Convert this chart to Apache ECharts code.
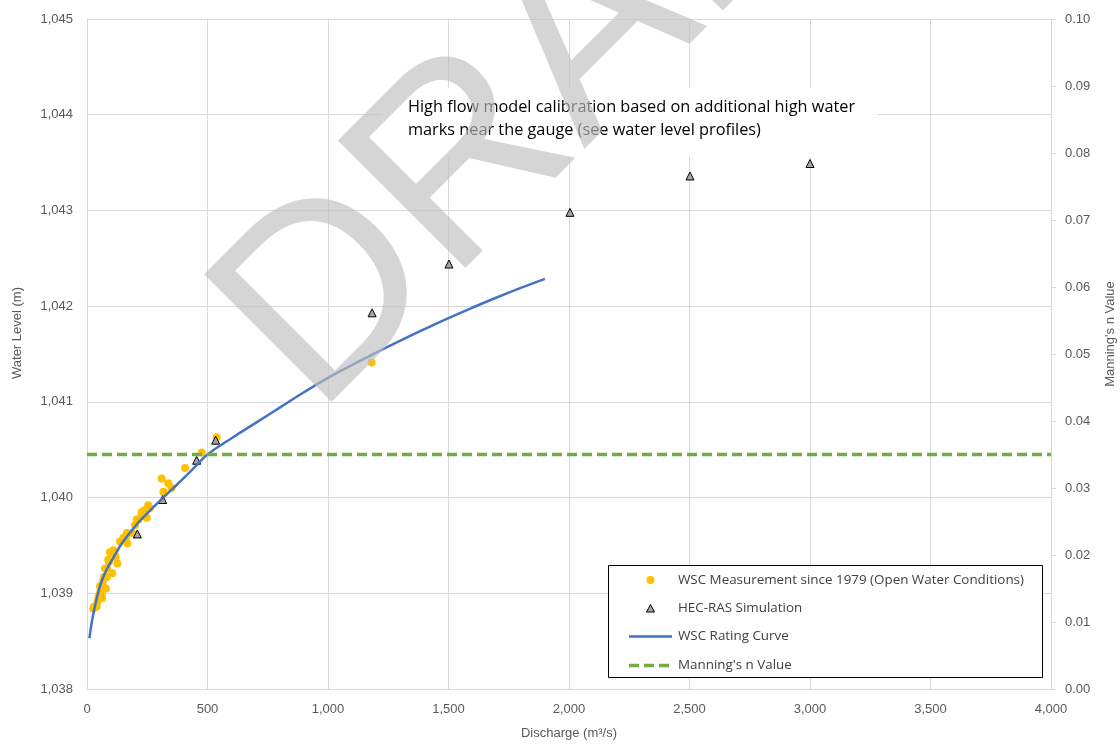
<!DOCTYPE html>
<html>
<head>
<meta charset="utf-8">
<title>Rating Curve</title>
<script src="https://cdn.jsdelivr.net/npm/echarts@6/dist/echarts.min.js"></script>
<style>
  html, body { margin: 0; padding: 0; background: #ffffff; }
  #chart { width: 1120px; height: 745px; }
</style>
</head>
<body>
<div id="chart"></div>
<script>
// WSC measurements since 1979 (open water conditions): discharge (m3/s) and water level (m)
const measQ = [26, 29, 40, 43, 47, 50, 54, 57, 61, 63, 54, 63, 68, 71, 78, 82, 75, 84, 88, 91,
  105, 95, 98, 109, 116, 119, 126, 137, 151, 161, 165, 167, 188, 199, 206, 213, 227, 227, 241, 248,
  254, 261, 310, 317, 337, 351, 407, 476, 538, 1181];
const measWL = [1038.84, 1038.86, 1038.86, 1038.91, 1038.95, 1038.98, 1039.00, 1039.02, 1039.00, 1038.95,
  1039.07, 1039.09, 1039.14, 1039.17, 1039.05, 1039.17, 1039.26, 1039.26, 1039.35, 1039.33,
  1039.21, 1039.43, 1039.43, 1039.45, 1039.40, 1039.38, 1039.31, 1039.54, 1039.58, 1039.58,
  1039.63, 1039.52, 1039.63, 1039.71, 1039.77, 1039.77, 1039.82, 1039.85, 1039.87, 1039.79,
  1039.92, 1039.89, 1040.20, 1040.06, 1040.15, 1040.10, 1040.31, 1040.47, 1040.63, 1041.41];

// HEC-RAS simulation results
const simQ = [209, 314, 455, 534, 1183, 1502, 2004, 2502, 3000];
const simWL = [1039.62, 1039.98, 1040.39, 1040.60, 1041.93, 1042.44, 1042.98, 1043.36, 1043.49];

// WSC rating curve
const curveQ = [10, 15, 20, 30, 40, 50, 60, 80, 100, 125, 150, 200, 250, 300, 350, 400, 450, 500,
  600, 700, 800, 900, 1000, 1100, 1200, 1300, 1400, 1500, 1600, 1700, 1800, 1900];
const curveWL = [1038.53, 1038.62, 1038.70, 1038.83, 1038.94, 1039.04, 1039.12, 1039.24, 1039.33,
  1039.44, 1039.54, 1039.70, 1039.835, 1039.96, 1040.08, 1040.20, 1040.325, 1040.45,
  1040.62, 1040.78, 1040.94, 1041.10, 1041.25, 1041.385, 1041.515, 1041.64, 1041.76, 1041.875,
  1041.985, 1042.09, 1042.19, 1042.285];

// Manning's n value (secondary axis)
const manningQ = [0, 4000];
const manningN = [0.035, 0.035];

// Axis ranges and tick steps
const xTicks = { min: 0, max: 4000, step: 500 };
const wlTicks = { min: 1038, max: 1045, step: 1 };
const nTicks = { min: 0, max: 0.1, step: 0.01 };

const seriesNames = [
  'WSC Measurement since 1979 (Open Water Conditions)',
  'HEC-RAS Simulation',
  'WSC Rating Curve',
  "Manning's n Value"
];
const noteLines = [
  'High flow model calibration based on additional high water',
  'marks near the gauge (see water level profiles)'
];

const zip = (a, b) => a.map((v, i) => [v, b[i]]);
const FONT = "'Liberation Sans', Arial, sans-serif";
const TEXT_FONT = "'Open Sans', 'Liberation Sans', sans-serif";
const AXIS_TEXT = '#595959';
const GRID_COLOR = '#d9d9d9';

const COLORS = {
  meas: '#FFC000',
  sim: '#a5a5a5',
  curve: '#4472C4',
  manning: '#70AD47'
};
const MANNING_DASH = [10, 5];

// Legend, drawn as a framed box with one row per series
function legendElements() {
  const box = { x: 608.5, y: 565.5, w: 434, h: 112 };
  const rows = [580, 608.5, 636.5, 665.5];
  const iconL = 629, iconR = 672, iconC = (iconL + iconR) / 2, textX = 678;
  const els = [{
    type: 'rect', z: 10,
    shape: { x: box.x, y: box.y, width: box.w, height: box.h },
    style: { fill: '#ffffff', stroke: '#000000', lineWidth: 1 }
  }];
  els.push({
    type: 'circle', z: 11,
    shape: { cx: iconC, cy: rows[0], r: 4 },
    style: { fill: COLORS.meas }
  });
  els.push({
    type: 'polygon', z: 11,
    shape: { points: [[iconC, rows[1] - 4], [iconC + 4, rows[1] + 3.5], [iconC - 4, rows[1] + 3.5]] },
    style: { fill: COLORS.sim, stroke: '#000000', lineWidth: 1 }
  });
  els.push({
    type: 'line', z: 11,
    shape: { x1: iconL, y1: rows[2], x2: iconR, y2: rows[2] },
    style: { stroke: COLORS.curve, lineWidth: 2.5 }
  });
  els.push({
    type: 'line', z: 11,
    shape: { x1: iconL, y1: rows[3], x2: iconR + 1, y2: rows[3] },
    style: { stroke: COLORS.manning, lineWidth: 3.5, lineDash: MANNING_DASH }
  });
  seriesNames.forEach((name, i) => {
    els.push({
      type: 'text', z: 11,
      x: textX, y: rows[i],
      style: { text: name, fill: '#404040', font: '13.4px ' + TEXT_FONT, align: 'left', verticalAlign: 'middle' }
    });
  });
  return els;
}

const chart = echarts.init(document.getElementById('chart'), null, { renderer: 'canvas' });

chart.setOption({
  animation: false,
  backgroundColor: '#ffffff',
  textStyle: { fontFamily: FONT },
  grid: { left: 87, right: 69, top: 19, bottom: 56, containLabel: false },
  xAxis: {
    type: 'value',
    min: xTicks.min, max: xTicks.max, interval: xTicks.step,
    axisLine: { show: true, lineStyle: { color: GRID_COLOR, width: 1 } },
    axisTick: { show: false },
    axisLabel: {
      color: AXIS_TEXT, fontSize: 13, fontFamily: FONT, margin: 14,
      formatter: v => v.toLocaleString('en-US')
    },
    splitLine: { show: true, lineStyle: { color: GRID_COLOR, width: 1 } }
  },
  yAxis: [
    {
      type: 'value',
      min: wlTicks.min, max: wlTicks.max, interval: wlTicks.step,
      axisLine: { show: true, lineStyle: { color: GRID_COLOR, width: 1 } },
      axisTick: { show: false },
      axisLabel: {
        color: AXIS_TEXT, fontSize: 13, fontFamily: FONT, margin: 14,
        formatter: v => v.toLocaleString('en-US')
      },
      splitLine: { show: true, lineStyle: { color: GRID_COLOR, width: 1 } }
    },
    {
      type: 'value',
      position: 'right',
      min: nTicks.min, max: nTicks.max, interval: nTicks.step,
      axisLine: { show: true, lineStyle: { color: GRID_COLOR, width: 1 } },
      axisTick: { show: true, inside: false, length: 5, lineStyle: { color: GRID_COLOR } },
      axisLabel: {
        color: AXIS_TEXT, fontSize: 13, fontFamily: FONT, margin: 14,
        formatter: v => v.toFixed(2)
      },
      splitLine: { show: false }
    }
  ],
  series: [
    {
      name: seriesNames[0],
      type: 'scatter',
      data: zip(measQ, measWL),
      symbol: 'circle',
      symbolSize: 8,
      itemStyle: { color: COLORS.meas, opacity: 1 },
      z: 2
    },
    {
      name: seriesNames[1],
      type: 'scatter',
      data: zip(simQ, simWL),
      symbol: 'triangle',
      symbolSize: [8, 8],
      itemStyle: { color: COLORS.sim, borderColor: '#000000', borderWidth: 1, opacity: 1 },
      z: 3
    },
    {
      name: seriesNames[2],
      type: 'line',
      data: zip(curveQ, curveWL),
      smooth: 0.5,
      symbol: 'none',
      lineStyle: { color: COLORS.curve, width: 2.5 },
      itemStyle: { color: COLORS.curve },
      z: 4
    },
    {
      name: seriesNames[3],
      type: 'line',
      yAxisIndex: 1,
      data: zip(manningQ, manningN),
      symbol: 'none',
      lineStyle: { color: COLORS.manning, width: 3.5, type: MANNING_DASH },
      itemStyle: { color: COLORS.manning },
      z: 5
    }
  ],
  graphic: {
    elements: [
      // annotation box
      {
        type: 'rect', z: 10,
        shape: { x: 382, y: 88, width: 495, height: 69 },
        style: { fill: '#ffffff' }
      },
      {
        type: 'text', z: 11,
        x: 408, y: 96,
        style: {
          text: noteLines.join('\n'),
          fill: '#000000',
          font: '16.3px ' + TEXT_FONT,
          lineHeight: 23,
          align: 'left',
          verticalAlign: 'top'
        }
      },
      // axis titles
      {
        type: 'text', z: 11,
        x: 17, y: 333, rotation: Math.PI / 2,
        style: { text: 'Water Level (m)', fill: AXIS_TEXT, font: '13px ' + FONT, align: 'center', verticalAlign: 'middle' }
      },
      {
        type: 'text', z: 11,
        x: 1110, y: 334, rotation: Math.PI / 2,
        style: { text: "Manning's n Value", fill: AXIS_TEXT, font: '13px ' + FONT, align: 'center', verticalAlign: 'middle' }
      },
      {
        type: 'text', z: 11,
        x: 569, y: 733,
        style: { text: 'Discharge (m³/s)', fill: AXIS_TEXT, font: '13px ' + FONT, align: 'center', verticalAlign: 'middle' }
      },
      ...legendElements(),
      // watermark
      {
        type: 'text', z: 100, silent: true,
        x: 574, y: 57, rotation: Math.PI / 4,
        style: {
          text: 'DRAFT',
          fill: 'rgba(191,191,191,0.65)',
          font: '262px ' + FONT,
          align: 'center',
          verticalAlign: 'middle'
        }
      }
    ]
  }
});
</script>
</body>
</html>
